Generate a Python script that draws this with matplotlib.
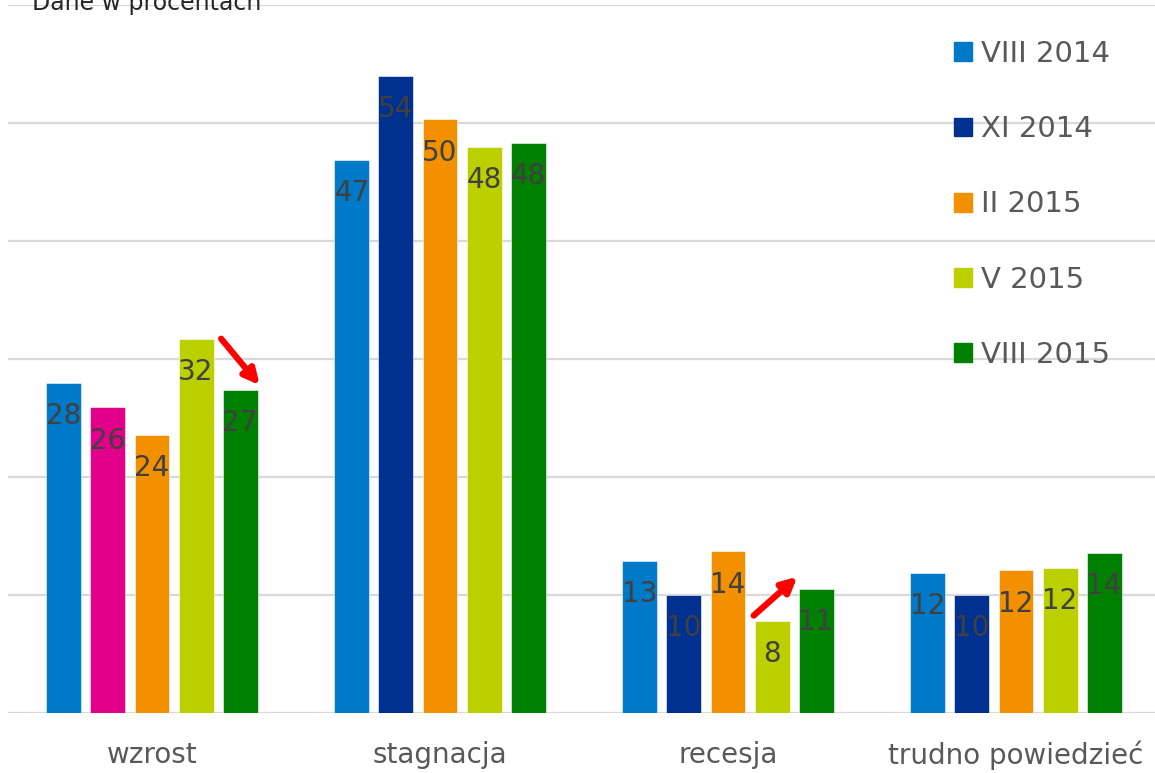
import numpy as np
import matplotlib.pyplot as plt
from matplotlib.patches import Patch

# Survey: expected economic situation, percentages
categories = ["wzrost", "stagnacja", "recesja", "trudno powiedzieć"]
series = ["VIII 2014", "XI 2014", "II 2015", "V 2015", "VIII 2015"]
values = [
    [28, 47, 13, 12],   # VIII 2014
    [26, 54, 10, 10],   # XI 2014
    [24, 50, 14, 12],   # II 2015
    [32, 48, 8, 12],    # V 2015
    [27, 48, 11, 14],   # VIII 2015
]
# displayed heights differ a bit from the rounded labels
heights = [
    [28.0, 46.9, 12.9, 11.9],
    [25.9, 54.0, 10.0, 10.0],
    [23.6, 50.3, 13.7, 12.1],
    [31.7, 47.97, 7.8, 12.3],
    [27.4, 48.3, 10.5, 13.6],
]
colors = ["#0079c8", "#003090", "#f39000", "#bcd000", "#008000"]
magenta = "#e2008a"

plt.rcParams['font.family'] = ['DejaVu Sans']

fig = plt.figure(figsize=(11.55, 7.73), dpi=100)
ax = fig.add_axes([8 / 1155, 60 / 773, 1152 / 1155, 708 / 773])

x = np.arange(len(categories))
pitch = 0.1528
width = 0.1215

for i, name in enumerate(series):
    cols = [colors[i]] * len(categories)
    if i == 1:
        cols[0] = magenta  # wzrost bar drawn in magenta in the original
    bars = ax.bar(x + (i - 2) * pitch, heights[i], width, color=cols,
                  edgecolor="white", linewidth=0.4, zorder=2)
    for b, v in zip(bars, values[i]):
        ax.annotate(str(v), (b.get_x() + b.get_width() / 2, b.get_height()),
                    xytext=(0, -24), textcoords="offset points",
                    ha="center", va="center", fontsize=20, color="#404040",
                    zorder=3)

ax.set_xlim(-0.5, 3.5)
ax.set_ylim(0, 60)
ax.set_yticks(np.arange(0, 61, 10))
ax.yaxis.grid(True, color="#d9d9d9", linewidth=1.6)
ax.set_axisbelow(True)
ax.tick_params(axis="y", left=False, labelleft=False)
ax.set_xticks(x)
ax.set_xticklabels(categories, fontsize=20, color="#595959")
ax.tick_params(axis="x", length=0, pad=20)
for s in ax.spines.values():
    s.set_visible(False)

# red trend arrows
arrow = dict(arrowstyle="-|>,head_length=0.9,head_width=0.45", color="#ff0000", lw=4.5)
ax.annotate("", xy=(0.380, 27.6), xytext=(0.234, 31.9), arrowprops=arrow, zorder=4)
ax.annotate("", xy=(2.248, 11.7), xytext=(2.082, 8.1), arrowprops=arrow, zorder=4)

handles = [Patch(color=c) for c in colors]
leg = ax.legend(handles, series, loc="upper left",
                bbox_to_anchor=(954 / 1155, 1 - 40 / 773), bbox_transform=fig.transFigure,
                frameon=False, fontsize=21, handlelength=0.62, handleheight=0.62,
                handletextpad=0.3, labelspacing=1.62, borderpad=0, borderaxespad=0)
for t in leg.get_texts():
    t.set_color("#595959")

# header is partly cut off at the top edge, as in the original
fig.text(32 / 1155, 1 - 10 / 773, "Dane w procentach", fontsize=17,
         color="#262626", va="baseline")

fig.savefig("out.png", dpi=100)
